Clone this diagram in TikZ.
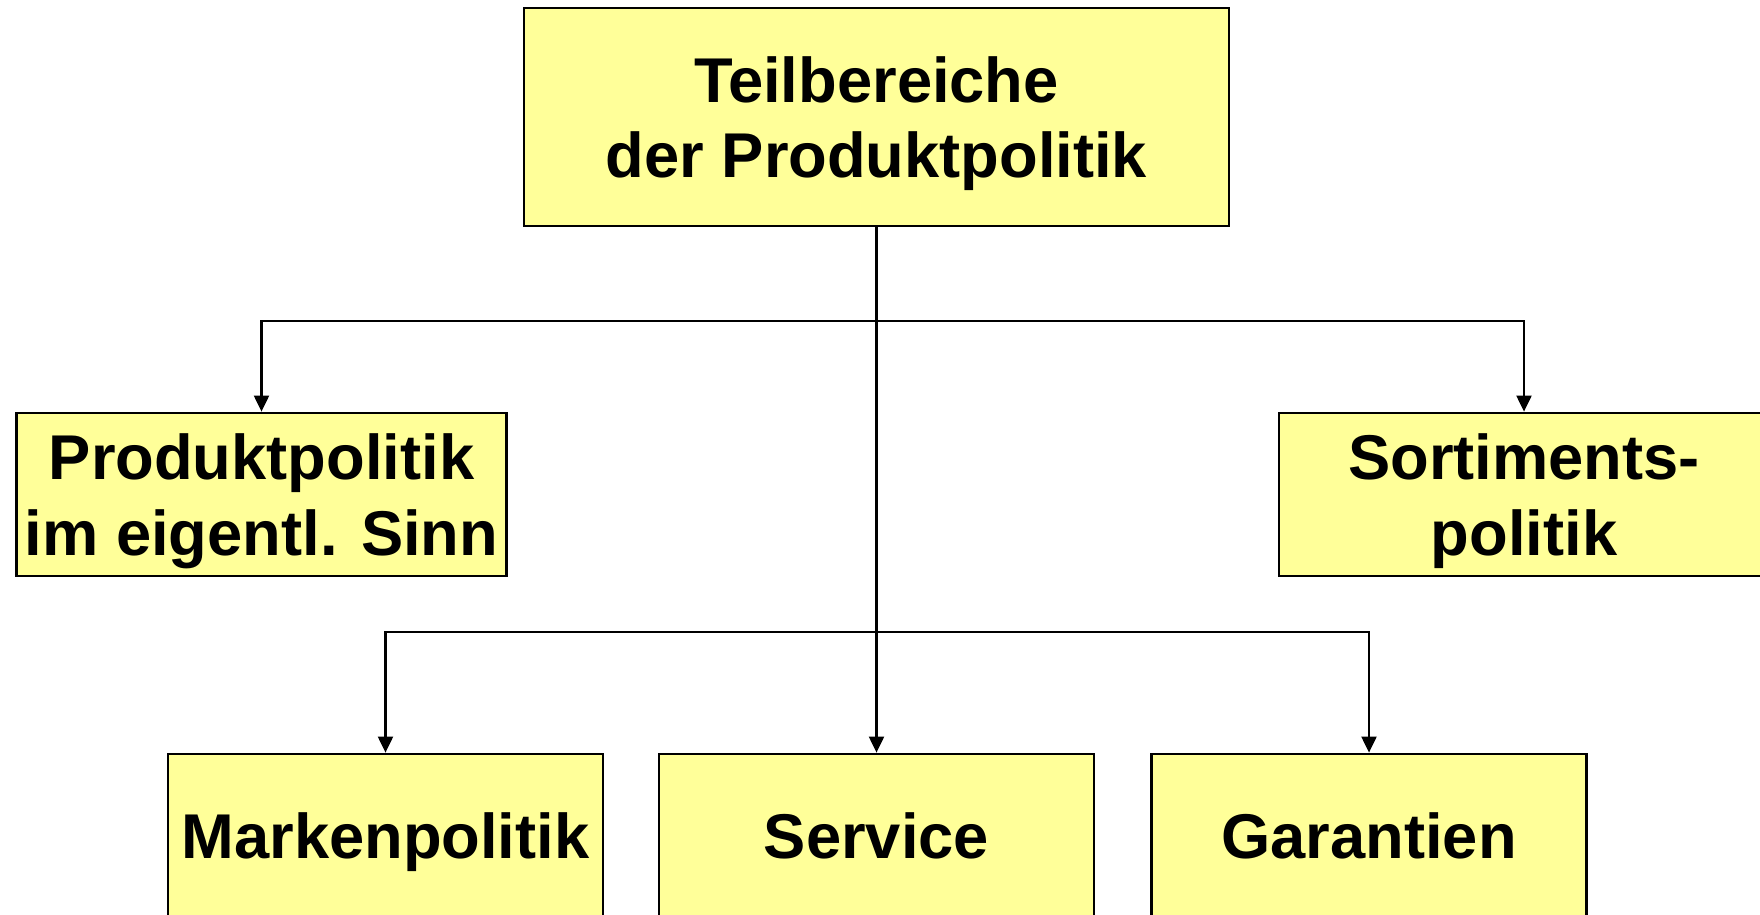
\documentclass[tikz,border=0pt]{standalone}
\usepackage{fontspec}
\setmainfont{Liberation Sans}
\usetikzlibrary{arrows.meta, positioning, calc}
\definecolor{PartYellow}{HTML}{FFFF99}

\begin{document}
\begin{tikzpicture}[>={Triangle[length=1.6mm,width=1.5mm]},
        partbox/.style={rectangle, draw=black, line width=0.8pt, fill=PartYellow, inner sep=0pt, text depth=0pt, align=center, font=\fontsize{18}{21.5}\selectfont\bfseries},
        arrow/.style={->, line width=0.6pt, black}]
        \useasboundingbox (0,0) rectangle (17.6,-9.14);
        \clip (0,0) rectangle (17.6,-9.14);

        \node[partbox, minimum width=7.05cm, minimum height=2.18cm] (top) at (8.765,-1.17) {Teilbereiche\\der Produktpolitik};
        \node[partbox, minimum width=4.9cm, minimum height=1.63cm] (eigen) at (2.615,-4.945) {Produktpolitik\\im eigentl. Sinn};
        \node[partbox, minimum width=4.9cm, minimum height=1.63cm] (sortiment) at (15.24,-4.945) {Sortiments-\\politik};
        \node[partbox, minimum width=4.35cm, minimum height=1.64cm] (marke) at (3.855,-8.36) {Markenpolitik};
        \node[partbox, minimum width=4.35cm, minimum height=1.64cm] (service) at (8.765,-8.36) {Service};
        \node[partbox, minimum width=4.35cm, minimum height=1.64cm] (garantie) at (13.69,-8.36) {Garantien};

        \coordinate (split1) at ($(top.south)+(0,-0.94)$);
        \coordinate (split2) at ($(top.south)+(0,-4.05)$);

        \draw[arrow] (top.south) -- (split1) -| (eigen.north);
        \draw[arrow] (split1) -| (sortiment.north);
        \draw[arrow] (split1) -- (split2) -- (service.north);
        \draw[arrow] (split2) -| (marke.north);
        \draw[arrow] (split2) -| (garantie.north);
    \end{tikzpicture}
\end{document}
